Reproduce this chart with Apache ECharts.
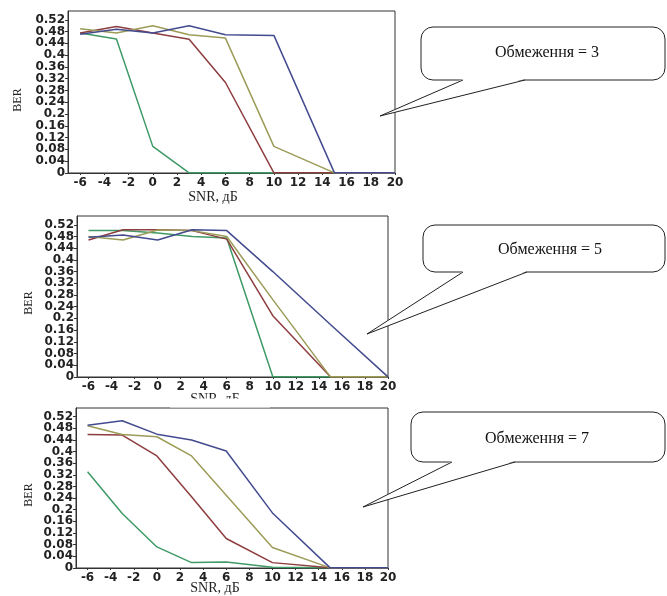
<!DOCTYPE html>
<html><head><meta charset="utf-8">
<script src="https://cdn.jsdelivr.net/npm/echarts@6/dist/echarts.min.js"></script>
<style>html,body{margin:0;padding:0;background:#fff}#c{width:667px;height:596px}</style>
</head><body><div id="c"></div>
<script>
// ---- data ----
const snr = [-6, -3, 0, 3, 6, 10, 15, 20];
const xTicks = [-6, -4, -2, 0, 2, 4, 6, 8, 10, 12, 14, 16, 18, 20];
const yTicks = [0, 0.04, 0.08, 0.12, 0.16, 0.2, 0.24, 0.28, 0.32, 0.36, 0.4, 0.44, 0.48, 0.52];
const xTitle = 'SNR, дБ';
const yTitle = 'BER';
const calloutTexts = ['Обмеження = 3', 'Обмеження = 5', 'Обмеження = 7'];

// limit = 3
const lim3Green = [0.475, 0.455, 0.09, 0, 0, 0, 0, 0];
const lim3Olive = [0.49, 0.475, 0.50, 0.469, 0.458, 0.09, 0, 0];
const lim3Red   = [0.475, 0.497, 0.475, 0.454, 0.307, 0, 0, 0];
const lim3Blue  = [0.471, 0.488, 0.475, 0.50, 0.469, 0.467, 0, 0];
// limit = 5
const lim5Green = [0.50, 0.50, 0.492, 0.48, 0.475, 0, 0, 0];
const lim5Olive = [0.48, 0.468, 0.502, 0.50, 0.48, 0.264, 0, 0];
const lim5Red   = [0.468, 0.503, 0.503, 0.50, 0.471, 0.209, 0, 0];
const lim5Blue  = [0.477, 0.485, 0.468, 0.503, 0.50, 0.36, 0.179, 0];
// limit = 7
const lim7Green = [0.331, 0.187, 0.072, 0.018, 0.02, 0.002, 0, 0];
const lim7Olive = [0.489, 0.459, 0.451, 0.385, 0.25, 0.07, 0, 0];
const lim7Red   = [0.459, 0.457, 0.385, 0.245, 0.101, 0.018, 0, 0];
const lim7Blue  = [0.491, 0.506, 0.46, 0.44, 0.402, 0.189, 0, 0];

const panels = [
  {green: lim3Green, red: lim3Red, olive: lim3Olive, blue: lim3Blue},
  {green: lim5Green, red: lim5Red, olive: lim5Olive, blue: lim5Blue},
  {green: lim7Green, red: lim7Red, olive: lim7Olive, blue: lim7Blue}
];

// ---- styling / layout ----
const colors = {green: '#3f9a66', red: '#8e3d3f', olive: '#9c9c58', blue: '#434b8e'};
const order = ['green', 'red', 'olive', 'blue'];
const grids = [
  {left: 68, top: 11, width: 327, height: 162},
  {left: 77, top: 216, width: 311, height: 161},
  {left: 76, top: 408, width: 312, height: 160}
];
const Y_MIN = -0.0005, Y_MAX = 0.55;
// padding entries at both ends (blank) so ECharts' min/max label overlap check never drops real labels
const yLabelValues = [Y_MIN].concat(yTicks, [Y_MAX]);
const labelFont = {fontFamily: 'DejaVu Sans', fontSize: 12, fontWeight: 'bold', color: '#222'};

const option = {
  animation: false,
  backgroundColor: '#fff',
  grid: grids.map(g => Object.assign({show: true, borderColor: '#333', borderWidth: 1, backgroundColor: 'transparent'}, g)),
  xAxis: grids.map((g, i) => ({
    type: 'value', gridIndex: i, min: -7, max: 20,
    splitLine: {show: false},
    axisLine: {show: true, onZero: false, lineStyle: {color: '#333', width: 1}},
    axisTick: {show: true, length: 2, customValues: xTicks, lineStyle: {color: '#333'}},
    axisLabel: Object.assign({margin: 4, customValues: xTicks, hideOverlap: false}, labelFont)
  })),
  yAxis: grids.map((g, i) => ({
    type: 'value', gridIndex: i, min: Y_MIN, max: Y_MAX,
    splitLine: {show: false},
    axisLine: {show: true, onZero: false, lineStyle: {color: '#333', width: 1}},
    axisTick: {show: true, length: 3, customValues: yTicks, lineStyle: {color: '#333'}},
    axisLabel: Object.assign({
      margin: 3, customValues: yLabelValues, hideOverlap: false,
      showMinLabel: false, showMaxLabel: false,
      formatter: v => (v === Y_MIN || v === Y_MAX) ? '' : String(v)
    }, labelFont)
  })),
  series: [],
  graphic: []
};

panels.forEach((p, i) => {
  order.forEach(k => {
    option.series.push({
      type: 'line', xAxisIndex: i, yAxisIndex: i,
      data: snr.map((x, j) => [x, p[k][j]]),
      showSymbol: false, symbol: 'none',
      lineStyle: {color: colors[k], width: 1.5},
      clip: false
    });
  });
});

// axis titles
const titleFont = 'Liberation Serif';
const berPos = [[18, 100], [29, 303], [29, 495]];
const snrPos = [[213, 197], [215, 399], [215, 588]];
berPos.forEach(p => option.graphic.push({
  type: 'text', x: p[0], y: p[1], rotation: Math.PI / 2, z: 50,
  style: {text: yTitle, font: '12px ' + titleFont, fill: '#222', align: 'center', verticalAlign: 'middle'}
}));
snrPos.forEach(p => option.graphic.push({
  type: 'text', x: p[0], y: p[1], z: 50,
  style: {text: xTitle, font: '14px ' + titleFont, fill: '#222', align: 'center', verticalAlign: 'middle'}
}));
// cut-off of the middle panel's x title (as in the source image)
option.graphic.push({type: 'rect', shape: {x: 170, y: 398.5, width: 100, height: 9}, style: {fill: '#fff'}, z: 60});

// callouts
const bubbles = [
  {x: 421, y: 27, w: 244, h: 53, a1: 463, a2: 525, tip: [380, 116], tx: 547, ty: 53},
  {x: 423, y: 225, w: 242, h: 47, a1: 463, a2: 527, tip: [367, 334], tx: 550, ty: 250},
  {x: 411, y: 412, w: 254, h: 50, a1: 452, a2: 515, tip: [363, 507], tx: 537, ty: 439}
];
bubbles.forEach((b, i) => {
  const by = b.y + b.h;
  option.graphic.push({type: 'rect', z: 100, shape: {x: b.x, y: b.y, width: b.w, height: b.h, r: 12},
    style: {fill: '#fff', stroke: '#222', lineWidth: 1}});
  option.graphic.push({type: 'polygon', z: 101, shape: {points: [[b.a1, by - 1], b.tip, [b.a2, by - 1]]},
    style: {fill: '#fff'}});
  option.graphic.push({type: 'polyline', z: 102, shape: {points: [[b.a1, by], b.tip, [b.a2, by]]},
    style: {fill: null, stroke: '#222', lineWidth: 1}});
  option.graphic.push({type: 'text', z: 103, x: b.tx, y: b.ty,
    style: {text: calloutTexts[i], font: '16px ' + titleFont, fill: '#111', align: 'center', verticalAlign: 'middle'}});
});

const chart = echarts.init(document.getElementById('c'), null, {renderer: 'canvas'});
chart.setOption(option);
</script>
</body></html>
